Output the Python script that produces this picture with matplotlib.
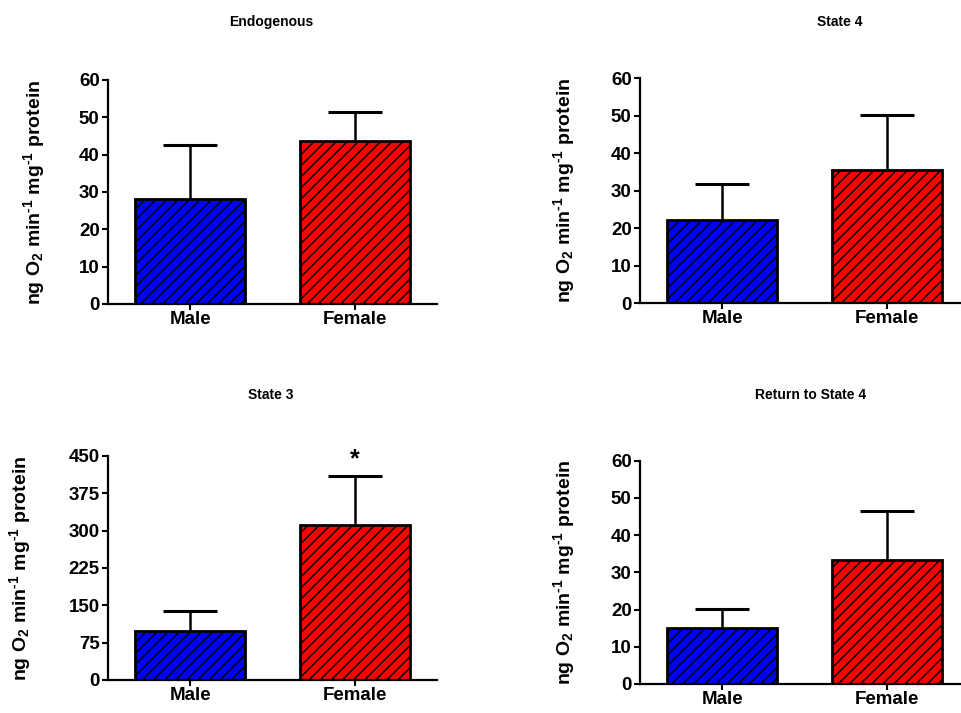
import matplotlib
matplotlib.use("Agg")
import matplotlib.pyplot as plt

plt.rcParams['font.family'] = ['Liberation Sans', 'DejaVu Sans']
plt.rcParams['font.weight'] = 'bold'
plt.rcParams['mathtext.fontset'] = 'custom'
plt.rcParams['mathtext.rm'] = 'Liberation Sans:bold'
plt.rcParams['mathtext.bf'] = 'Liberation Sans:bold'
plt.rcParams['mathtext.default'] = 'bf'
plt.rcParams['hatch.linewidth'] = 1.1
plt.rcParams['hatch.color'] = 'black'

categories = ["Male", "Female"]
titles = ["Endogenous", "State 4", "State 3", "Return to State 4"]
means = {
    "Endogenous": [28.0, 43.6],
    "State 4": [22.1, 35.5],
    "State 3": [98.5, 311.5],
    "Return to State 4": [15.0, 33.3],
}
errors = {
    "Endogenous": [14.7, 7.9],
    "State 4": [9.6, 14.8],
    "State 3": [40.0, 97.5],
    "Return to State 4": [5.1, 13.3],
}
yticks = {
    "Endogenous": [0, 10, 20, 30, 40, 50, 60],
    "State 4": [0, 10, 20, 30, 40, 50, 60],
    "State 3": [0, 75, 150, 225, 300, 375, 450],
    "Return to State 4": [0, 10, 20, 30, 40, 50, 60],
}
significance = {"State 3": [None, "*"]}
bar_colors = ["#0000FF", "#FF0000"]
ylabel = "ng O$_2$ min$^{\u2010 1}$ mg$^{\u2010 1}$ protein"

W, H = 961, 713
fig = plt.figure(figsize=(W / 100, H / 100), dpi=100)

# axes boxes in pixels: left, top, right, bottom
boxes = {
    "Endogenous": (108, 80, 437, 304),
    "State 4": (640, 78.3, 969, 303.3),
    "State 3": (108, 456, 437, 680),
    "Return to State 4": (640, 460.7, 969, 684),
}
title_pos = {
    "Endogenous": (271, 22),
    "State 4": (840, 22),
    "State 3": (271, 395),
    "Return to State 4": (811, 395),
}
# right edge (descender side) of the rotated y label, in pixels
ylabel_x = {
    "Endogenous": 47,
    "State 4": 577,
    "State 3": 33,
    "Return to State 4": 577,
}

x = list(range(len(categories)))
for name in titles:
    l, t, r, b = boxes[name]
    ax = fig.add_axes([l / W, 1 - b / H, (r - l) / W, (b - t) / H])
    ax.errorbar(x, means[name], yerr=errors[name], fmt='none', ecolor='black',
                elinewidth=1.8, capsize=19.5, capthick=2.2, zorder=1)
    ax.bar(x, means[name], width=0.67, color=bar_colors, edgecolor='black',
           linewidth=2.0, hatch='///', zorder=2)
    ax.set_xlim(-0.5, 1.5)
    ax.set_ylim(yticks[name][0], yticks[name][-1])
    ax.set_yticks(yticks[name])
    ax.set_xticks(x)
    ax.set_xticklabels(categories)
    for s in ['top', 'right']:
        ax.spines[s].set_visible(False)
    for s in ['left', 'bottom']:
        ax.spines[s].set_linewidth(1.6)
    ax.tick_params(axis='both', direction='out', length=4, width=1.5,
                   labelsize=13.5, pad=2)
    ax.tick_params(axis='x', pad=1)
    for lab in ax.get_xticklabels() + ax.get_yticklabels():
        lab.set_fontweight('bold')
    ax.set_ylabel(ylabel, fontsize=14, fontweight='bold')
    ax.yaxis.set_label_coords((ylabel_x[name] - l) / (r - l), 0.5)
    if name in significance:
        for xi, m, e, s in zip(x, means[name], errors[name], significance[name]):
            if s:
                ax.annotate(s, (xi, m + e), xytext=(0, 4), textcoords='offset points',
                            ha='center', va='bottom', fontsize=18, fontweight='bold')
    tx, ty = title_pos[name]
    fig.text(tx / W, 1 - ty / H, name, ha='center', va='center',
             fontsize=10, fontweight='bold')

fig.savefig("out.png", dpi=100)
